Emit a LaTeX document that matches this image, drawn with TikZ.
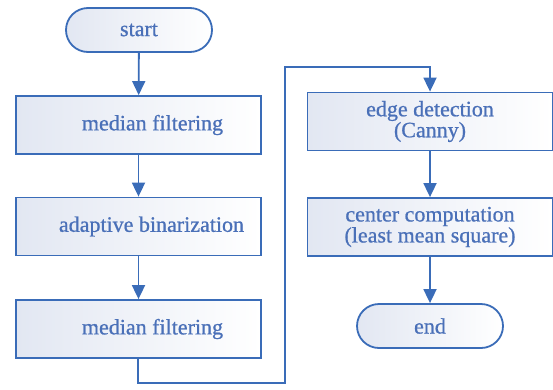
\documentclass[tikz,border=0pt]{standalone}
\usepackage{fontspec}
\newfontfamily\boxfont{Liberation Serif}[FakeBold=0.8]
\usetikzlibrary{arrows.meta}
\definecolor{flowline}{HTML}{3A6CB8}
\definecolor{flowtext}{HTML}{4A70B8}
\definecolor{flowfill}{HTML}{E2E7F2}
\tikzset{
  x=1pt, y=-1pt,
  boxbase/.style={draw=flowline, line width=1.8pt, text=flowtext,
    left color=flowfill, right color=white, inner sep=0pt,
    font=\boxfont\fontsize{22}{21}\selectfont, align=center},
  procbox/.style={boxbase, rectangle, minimum width=245pt, minimum height=58pt},
  termbox/.style={boxbase, rectangle, rounded corners=22pt, minimum width=146pt, minimum height=44pt},
  flow/.style={draw=flowline, line width=1.8pt, -{Triangle[length=14pt,width=13pt]}},
}
\begin{document}
\begin{tikzpicture}
\useasboundingbox (0,0) rectangle (553,389);
% left column
\node[termbox] (start) at (139,30) {start};
\node[procbox] (mf1) at (138.5,125) {\hspace*{28pt}median filtering};
\node[procbox] (bin) at (138.5,226.5) {\hspace*{26pt}adaptive binarization};
\node[procbox] (mf2) at (138.5,329) {\hspace*{28pt}median filtering};
% right column
\node[procbox] (edge) at (430,121.5) {edge detection\\(Canny)};
\node[procbox] (cent) at (430,227) {center computation\\(least mean square)};
\node[termbox] (end) at (430,326) {end};
% connectors
\coordinate (low) at (138,383);
\coordinate (turn) at (285,383);
\coordinate (high) at (285,67);
\coordinate (over) at (430,67);
\draw[flow] (start) -- (mf1);
\draw[flow] (mf1) -- (bin);
\draw[flow] (bin) -- (mf2);
\draw[flow] (mf2.south -| low) -- (low) -- (turn) -- (high) -- (over) -- (edge.north);
\draw[flow] (edge) -- (cent);
\draw[flow] (cent) -- (end);
\end{tikzpicture}
\end{document}
